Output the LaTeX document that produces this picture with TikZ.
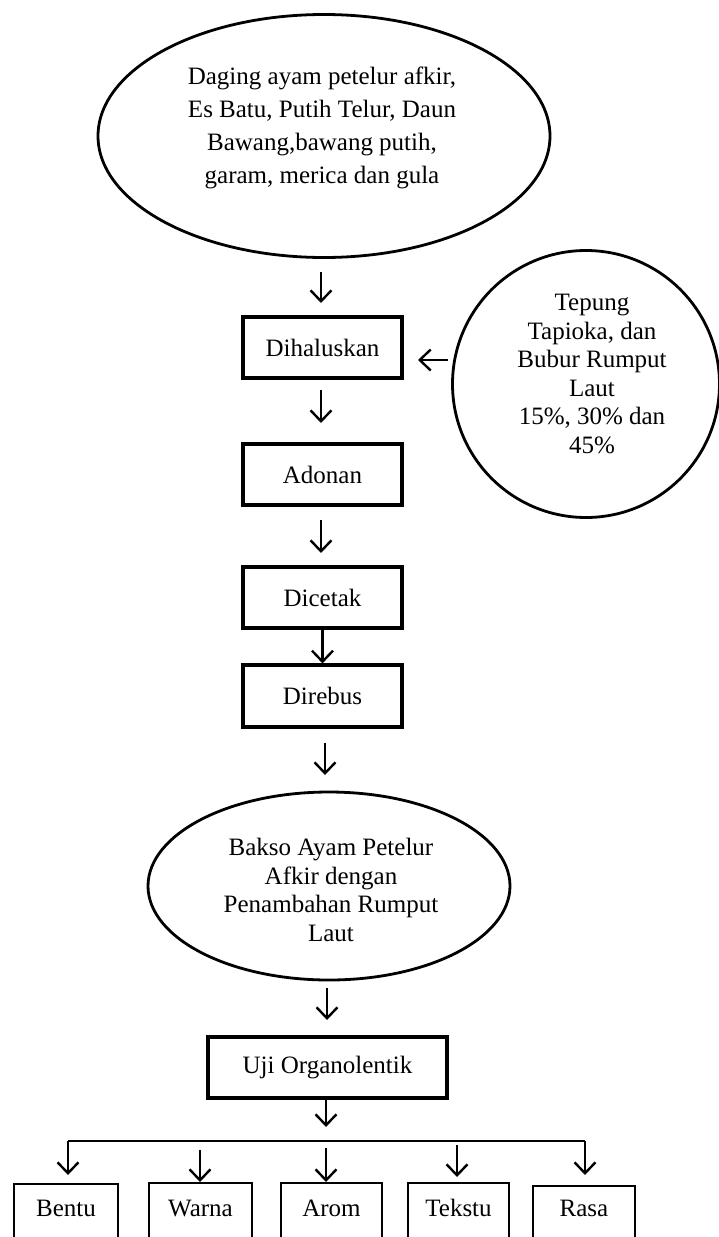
\documentclass[tikz,border=0pt]{standalone}
\usepackage{fontspec}
\setmainfont{Liberation Serif}
\usetikzlibrary{arrows.meta,shapes.geometric}
\begin{document}
\begin{tikzpicture}[x=1pt,y=-1pt,
  txt/.style={align=center, inner sep=0pt, font=\fontsize{25}{28.5}\selectfont},
  txtwide/.style={align=center, inner sep=0pt, font=\fontsize{25}{33}\selectfont},
  oval/.style={draw, ellipse, line width=2.8pt, inner sep=0pt},
  procbox/.style={draw, line width=3.2pt, inner sep=0pt, minimum width=159pt, minimum height=61pt, font=\fontsize{25}{28.5}\selectfont},
  leafbox/.style={draw, line width=2.2pt, inner sep=0pt, anchor=north, minimum height=80pt},
  arr/.style={line width=2.4pt, -{Straight Barb[length=11pt,width=21pt,line width=2.4pt]}},
  ln/.style={line width=2.4pt}
]
\useasboundingbox (0,0) rectangle (718,1237);

% top ellipse
\node[oval, minimum width=452pt, minimum height=243pt] (src) at (324,136) {};
\node[txtwide] (srct) at (322,128) {Daging ayam petelur afkir,\\ Es Batu, Putih Telur, Daun\\ Bawang,bawang putih,\\ garam, merica dan gula};

% side circle
\node[draw, circle, line width=2.8pt, minimum size=267pt, inner sep=0pt] (add) at (586,384) {};
\node[txt] (addt) at (592,374) {Tepung\\ Tapioka, dan\\ Bubur Rumput\\ Laut\\ 15\%, 30\% dan\\ 45\%};

% process boxes
\node[procbox] (b1) at (322.5,347.5) {Dihaluskan};
\node[procbox] (b2) at (322.5,474.5) {Adonan};
\node[procbox] (b3) at (322.5,597.5) {Dicetak};
\node[procbox, minimum height=62pt] (b4) at (322.5,696) {Direbus};

% product ellipse
\node[oval, minimum width=362pt, minimum height=188pt] (prod) at (329,886) {};
\node[txt] (prodt) at (331,890) {Bakso Ayam Petelur\\ Afkir dengan\\ Penambahan Rumput\\ Laut};

% test box
\node[procbox, minimum width=239pt] (uji) at (327.5,1067.5) {Uji Organolentik};

% leaf boxes
\node[leafbox, minimum width=104pt] (l1) at (66,1183) {};
\node[leafbox, minimum width=103pt] (l2) at (200.5,1182) {};
\node[leafbox, minimum width=101pt] (l3) at (331.5,1182) {};
\node[leafbox, minimum width=101pt] (l4) at (458.5,1182) {};
\node[leafbox, minimum width=102pt] (l5) at (584,1185) {};
\node[txt] (l1t) at (66,1208) {Bentu};
\node[txt] (l2t) at (200.5,1208) {Warna};
\node[txt] (l3t) at (331.5,1208) {Arom};
\node[txt] (l4t) at (458.5,1208) {Tekstu};
\node[txt] (l5t) at (584,1208) {Rasa};

% arrow coordinates
\coordinate (a1s) at (321,272); \coordinate (a1e) at (321,303);
\coordinate (sds) at (448,360); \coordinate (sde) at (418,360);
\coordinate (a2s) at (321,390); \coordinate (a2e) at (321,423);
\coordinate (a3s) at (321,520); \coordinate (a3e) at (321,553);
\coordinate (a5s) at (325,743); \coordinate (a5e) at (325,775);
\coordinate (a6s) at (327,988); \coordinate (a6e) at (327,1020);
\coordinate (a7e) at (326,1127);
\coordinate (hl) at (68,1141); \coordinate (hr) at (585,1141);
\coordinate (t1) at (68,1175); \coordinate (t5) at (585,1175);
\coordinate (w0) at (200,1150); \coordinate (r0) at (326,1148); \coordinate (k0) at (457,1145);
\coordinate (k1) at (457,1177);

\draw[arr] (a1s) -- (a1e);
\draw[arr] (sds) -- (sde);
\draw[arr] (a2s) -- (a2e);
\draw[arr] (a3s) -- (a3e);
\draw[arr] (b3.south) -- (b4.north);
\draw[arr] (a5s) -- (a5e);
\draw[arr] (a6s) -- (a6e);
\draw[arr] (a7e |- uji.south) -- (a7e);
\draw[ln] (hl) -- (hr);
\draw[arr] (hl) -- (t1);
\draw[arr] (hr) -- (t5);
\draw[arr] (w0) -- (w0 |- l2.north);
\draw[arr] (r0) -- (r0 |- l3.north);
\draw[arr] (k0) -- (k1);
\end{tikzpicture}
\end{document}
